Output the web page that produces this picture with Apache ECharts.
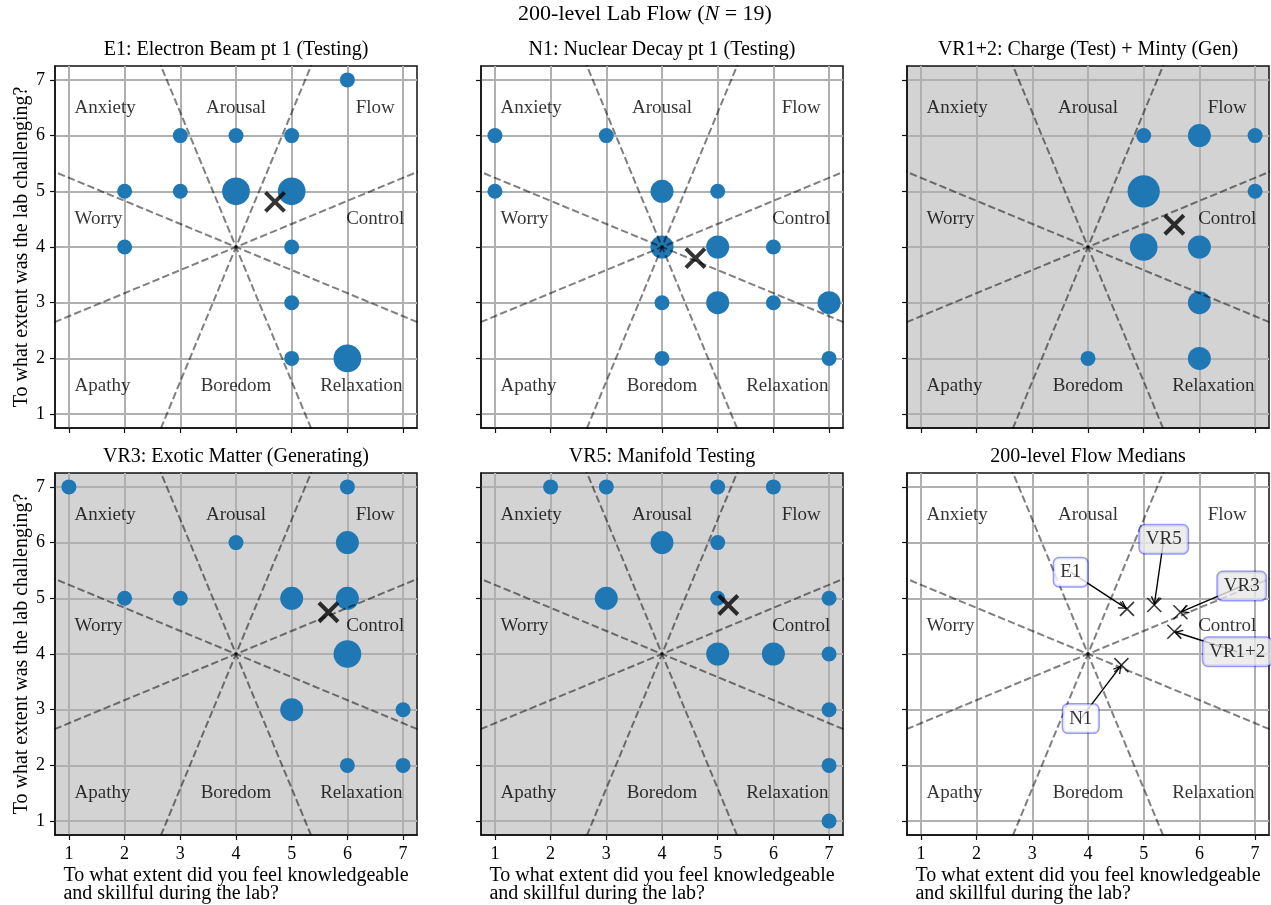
<!DOCTYPE html>
<html>
<head>
<meta charset="utf-8">
<title>200-level Lab Flow</title>
<script src="https://cdn.jsdelivr.net/npm/echarts@6/dist/echarts.min.js"></script>
<style>
  html, body { margin: 0; padding: 0; background: #ffffff; }
  #chart { width: 1271px; height: 905px; }
</style>
</head>
<body>
<div id="chart"></div>
<script>
// ---- Data -------------------------------------------------------------
// Likert scale used on both axes
const likertTicks = [1, 2, 3, 4, 5, 6, 7];

// Flow-model zones (Csikszentmihalyi) and where their names sit
const zoneNames = ['Anxiety', 'Arousal', 'Flow', 'Worry', 'Control', 'Apathy', 'Boredom', 'Relaxation'];
const zoneX = [1.1, 4, 6.5, 1.1, 6.5, 1.1, 4, 6.25];
const zoneY = [6.5, 6.5, 6.5, 4.5, 4.5, 1.5, 1.5, 1.5];

// Boundaries between zones: lines through the scale midpoint (degrees)
const zoneBoundaryAngles = [22.5, 67.5, 112.5, 157.5];

// Panel titles
const panelTitles = [
  'E1: Electron Beam pt 1 (Testing)',
  'N1: Nuclear Decay pt 1 (Testing)',
  'VR1+2: Charge (Test) + Minty (Gen)',
  'VR3: Exotic Matter (Generating)',
  'VR5: Manifold Testing',
  '200-level Flow Medians'
];

// Responses per lab: [skill, challenge, number of students]
const e1Responses = [
  [6, 7, 1], [3, 6, 1], [4, 6, 1], [5, 6, 1], [2, 5, 1], [3, 5, 1], [4, 5, 3],
  [5, 5, 3], [2, 4, 1], [5, 4, 1], [5, 3, 1], [5, 2, 1], [6, 2, 3]
];
const n1Responses = [
  [1, 6, 1], [3, 6, 1], [1, 5, 1], [4, 5, 2], [5, 5, 1], [4, 4, 2], [5, 4, 2],
  [6, 4, 1], [4, 3, 1], [5, 3, 2], [6, 3, 1], [7, 3, 2], [4, 2, 1], [7, 2, 1]
];
const vr12Responses = [
  [5, 6, 1], [6, 6, 2], [7, 6, 1], [5, 5, 4], [7, 5, 1], [5, 4, 3], [6, 4, 2],
  [6, 3, 2], [4, 2, 1], [6, 2, 2]
];
const vr3Responses = [
  [1, 7, 1], [6, 7, 1], [4, 6, 1], [6, 6, 2], [2, 5, 1], [3, 5, 1], [5, 5, 2],
  [6, 5, 2], [6, 4, 3], [5, 3, 2], [7, 3, 1], [6, 2, 1], [7, 2, 1]
];
const vr5Responses = [
  [2, 7, 1], [3, 7, 1], [5, 7, 1], [6, 7, 1], [4, 6, 2], [5, 6, 1], [3, 5, 2],
  [5, 5, 1], [7, 5, 1], [5, 4, 2], [6, 4, 2], [7, 4, 1], [7, 3, 1], [7, 2, 1], [7, 1, 1]
];

// Median (skill, challenge) for each lab
const labNames = ['E1', 'N1', 'VR1+2', 'VR3', 'VR5'];
const medianSkill = [4.7, 4.6, 5.55, 5.66, 5.19];
const medianChallenge = [4.81, 3.8, 4.4, 4.75, 4.88];

// Where each lab's callout text sits in the medians panel
const calloutSkill = [3.69, 3.87, 6.68, 6.76, 5.36];
const calloutChallenge = [5.47, 2.84, 4.04, 5.22, 6.06];

// ---- Styling ----------------------------------------------------------
const FONT = '"Liberation Serif", "DejaVu Serif", serif';
const BLUE = '#1f77b4';
const SHADE = '#d3d3d3';
const FRAME = '#111111';
const gridLefts = [55, 481, 907];
const gridTops = [66, 473];
const PANEL = 362;
const AX_MIN = 0.75, AX_MAX = 7.25;
const TEXT_SIZE = 19;
// marker diameter (px) for a given number of students at one spot
const bubbleDiameter = [0, 15, 23, 27.7, 32.3, 36];
const zoneAlign = ['left', 'center', 'center', 'left', 'center', 'left', 'center', 'center'];
const X_PATH = 'path://M0,0L10,10M10,0L0,10';
// open arrow head in a square box; its tip sits at the centre of the box
const ARROW_PATH = 'path://M-4.5,0.4L-4.45,0.4L-4.5,0.45Z M14.5,0.4L14.45,0.4L14.5,0.45Z ' +
  'M5,10L10,18.6L8.9,19.4L5,12.6L1.1,19.4L0,18.6Z';

const panelResponses = [e1Responses, n1Responses, vr12Responses, vr3Responses, vr5Responses, null];
const isVR = panelTitles.map(t => t.startsWith('VR'));

const grids = [], xAxes = [], yAxes = [], titles = [], series = [];

titles.push({
  text: '200-level Lab Flow ({i|N} = 19)',
  left: 645, top: 3, textAlign: 'center', padding: 0,
  textStyle: {
    fontFamily: FONT, fontSize: 22, fontWeight: 'normal', color: '#000',
    rich: { i: { fontFamily: FONT, fontSize: 22, fontStyle: 'italic', color: '#000' } }
  }
});

for (let i = 0; i < 6; i++) {
  const col = i % 3, row = Math.floor(i / 3);
  const shaded = i < 5 ? isVR[i] : false;
  grids.push({
    left: gridLefts[col], top: gridTops[row], width: PANEL, height: PANEL,
    show: true, backgroundColor: shaded ? SHADE : '#ffffff',
    borderColor: FRAME, borderWidth: 1.5, outerBoundsMode: 'none'
  });
  titles.push({
    text: panelTitles[i],
    left: gridLefts[col] + PANEL / 2, top: gridTops[row] - 26, textAlign: 'center', padding: 0,
    textStyle: { fontFamily: FONT, fontSize: 20, fontWeight: 'normal', color: '#000' }
  });
  const axisCommon = {
    type: 'value', gridIndex: i, min: AX_MIN, max: AX_MAX,
    axisLine: { show: true, onZero: false, lineStyle: { color: FRAME, width: 1.5 } },
    axisTick: { show: true, customValues: likertTicks, length: 5, lineStyle: { color: FRAME, width: 1.2 } },
    splitLine: { show: true, lineStyle: { color: '#b0b0b0', width: 2 } },
    minorTick: { show: false }, minorSplitLine: { show: false }
  };
  xAxes.push(Object.assign({}, axisCommon, {
    axisLabel: { show: row === 1, customValues: likertTicks, margin: 10, fontFamily: FONT, fontSize: 18, color: '#000' },
    name: row === 1 ? '{l|To what extent did you feel knowledgeable}\n{l|and skillful during the lab?}' : '',
    nameLocation: 'middle', nameGap: 32,
    nameTextStyle: {
      fontFamily: FONT, fontSize: 20, color: '#000',
      rich: { l: { align: 'left', fontFamily: FONT, fontSize: 20, lineHeight: 18, color: '#000' } }
    }
  }));
  yAxes.push(Object.assign({}, axisCommon, {
    axisLabel: { show: col === 0, customValues: likertTicks, margin: 10, fontFamily: FONT, fontSize: 18, color: '#000' },
    name: col === 0 ? 'To what extent was the lab challenging?' : '',
    nameLocation: 'middle', nameGap: 23,
    nameTextStyle: { fontFamily: FONT, fontSize: 20, color: '#000' }
  }));

  // responses, sized by how many students chose that spot
  if (panelResponses[i]) {
    series.push({
      type: 'scatter', xAxisIndex: i, yAxisIndex: i, z: 2, silent: true,
      data: panelResponses[i],
      symbolSize: v => bubbleDiameter[v[2]],
      itemStyle: { color: BLUE, opacity: 1 }
    });
  }

  // zone boundaries
  zoneBoundaryAngles.forEach(deg => {
    const r = deg * Math.PI / 180, L = 6;
    series.push({
      type: 'line', xAxisIndex: i, yAxisIndex: i, z: 3, silent: true, clip: true,
      symbol: 'none',
      data: [[4 - L * Math.cos(r), 4 - L * Math.sin(r)], [4 + L * Math.cos(r), 4 + L * Math.sin(r)]],
      lineStyle: { color: 'rgba(0,0,0,0.5)', width: 2, type: [7.4, 3.2] }
    });
  });

  // zone names
  series.push({
    type: 'scatter', xAxisIndex: i, yAxisIndex: i, z: 4, silent: true,
    symbolSize: 1, itemStyle: { color: 'rgba(0,0,0,0)' },
    data: zoneNames.map((n, k) => ({ name: n, value: [zoneX[k], zoneY[k]], label: { align: zoneAlign[k] } })),
    label: { show: true, position: 'inside', formatter: '{b}', fontFamily: FONT, fontSize: TEXT_SIZE, color: '#000' }
  });

  // medians
  if (i < 5) {
    series.push({
      type: 'scatter', xAxisIndex: i, yAxisIndex: i, z: 5, silent: true,
      symbol: X_PATH, symbolSize: 19,
      data: [[medianSkill[i], medianChallenge[i]]],
      itemStyle: { color: 'rgba(0,0,0,0)', borderColor: '#000', borderWidth: 4 }
    });
  } else {
    series.push({
      type: 'scatter', xAxisIndex: i, yAxisIndex: i, z: 5, silent: true,
      symbol: X_PATH, symbolSize: 14,
      data: labNames.map((n, k) => [medianSkill[k], medianChallenge[k]]),
      itemStyle: { color: 'rgba(0,0,0,0)', borderColor: '#000', borderWidth: 1.5 },
      markLine: {
        silent: true, animation: false,
        symbol: ['none', ARROW_PATH], symbolSize: 17,
        itemStyle: { color: '#000' },
        lineStyle: { color: '#000', width: 1.4, type: 'solid' },
        label: { show: false },
        emphasis: { disabled: true },
        data: labNames.map((n, k) => [
          { coord: [calloutSkill[k], calloutChallenge[k]] },
          { coord: [medianSkill[k], medianChallenge[k]] }
        ])
      }
    });
    series.push({
      type: 'scatter', xAxisIndex: i, yAxisIndex: i, z: 7, silent: true,
      symbolSize: 1, itemStyle: { color: 'rgba(0,0,0,0)' },
      data: labNames.map((n, k) => ({
        name: n, value: [calloutSkill[k], calloutChallenge[k]],
        label: { backgroundColor: n.startsWith('VR') ? '#e9e9e9' : '#ffffff' }
      })),
      label: {
        show: true, position: 'inside', formatter: '{b}', fontFamily: FONT, fontSize: TEXT_SIZE, color: '#000',
        borderColor: 'rgba(0,0,255,0.5)', borderWidth: 1.5, borderRadius: 5, padding: [5, 6, 4, 6]
      }
    });
  }
}

const chart = echarts.init(document.getElementById('chart'), null, { renderer: 'canvas', width: 1271, height: 905 });
chart.setOption({
  backgroundColor: '#ffffff',
  animation: false,
  title: titles,
  grid: grids,
  xAxis: xAxes,
  yAxis: yAxes,
  series: series
});
</script>
</body>
</html>
